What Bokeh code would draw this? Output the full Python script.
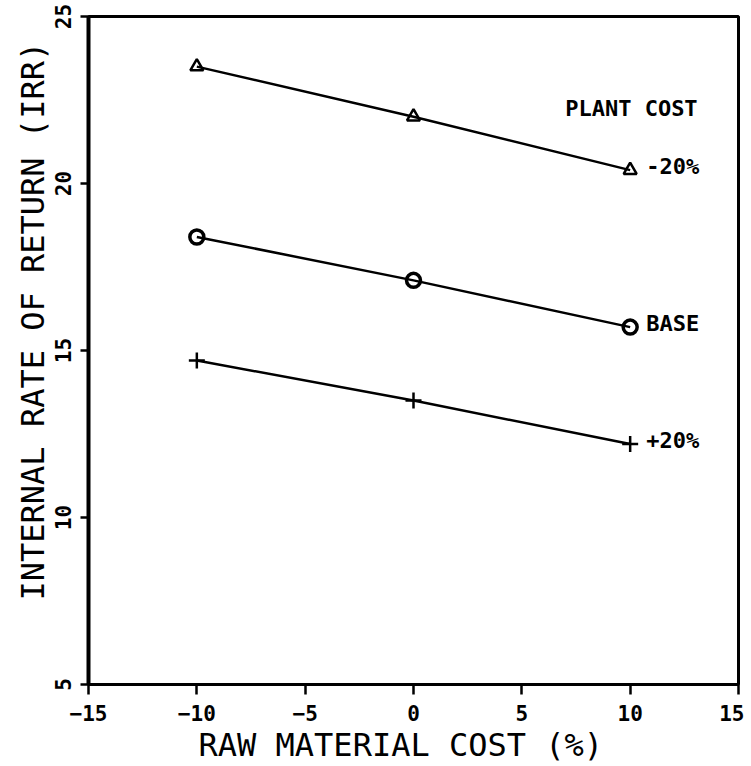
from bokeh.plotting import figure
from bokeh.models import Range1d, FixedTicker, ColumnDataSource, Title
from bokeh.embed import file_html
from bokeh.resources import INLINE
from bokeh.core.properties import value

# ---- data ----
raw_material_cost = [-10, 0, 10]
irr_plant_minus20 = [23.5, 22.0, 20.4]
irr_plant_base = [18.4, 17.1, 15.7]
irr_plant_plus20 = [14.7, 13.5, 12.2]
series_labels = ["-20%", "BASE", "+20%"]
legend_title = "PLANT COST"
x_title = "RAW MATERIAL COST  (%)"
y_title = "INTERNAL RATE OF RETURN (IRR)"
x_ticks = [-15, -10, -5, 0, 5, 10, 15]
y_ticks = [5, 10, 15, 20, 25]

FONT = "DejaVu Sans Mono"

p = figure(frame_width=650, frame_height=668,
           x_range=Range1d(-15, 15), y_range=Range1d(5, 25),
           output_backend="svg", toolbar_location=None,
           min_border_left=88, min_border_right=6, min_border_top=16, min_border_bottom=70)
p.grid.visible = False
p.outline_line_color = "black"
p.outline_line_width = 3
p.background_fill_color = "white"
p.border_fill_color = "white"

# bottom axis
xa = p.xaxis[0]
xa.ticker = FixedTicker(ticks=x_ticks)
xa.axis_line_width = 2.5
xa.major_tick_out = 10
xa.major_tick_in = 0
xa.major_tick_line_width = 2.5
xa.minor_tick_line_color = None
xa.major_label_standoff = 10
xa.major_label_text_font = FONT
xa.major_label_text_font_style = "bold"
xa.major_label_text_font_size = "21px"
xa.major_label_text_color = "black"

# left axis
ya = p.yaxis[0]
ya.ticker = FixedTicker(ticks=y_ticks)
ya.axis_line_width = 4
ya.major_tick_out = 8
ya.major_tick_in = 0
ya.major_tick_line_width = 2.5
ya.minor_tick_line_color = None
ya.major_label_orientation = "vertical"
ya.major_label_standoff = 10
ya.major_label_text_font = FONT
ya.major_label_text_font_style = "bold"
ya.major_label_text_font_size = "21px"
ya.major_label_text_color = "black"

# axis titles as side titles so they can be offset like the reference
p.add_layout(Title(text=x_title, align="left", offset=110, standoff=0,
                   text_font=FONT, text_font_style="normal",
                   text_font_size="32px", text_color="black"), "below")
p.add_layout(Title(text=y_title, align="left", offset=84, standoff=0,
                   text_font=FONT, text_font_style="normal",
                   text_font_size="32px", text_color="black"), "left")

# series
series = [irr_plant_minus20, irr_plant_base, irr_plant_plus20]
for ys in series:
    p.line(raw_material_cost, ys, line_color="black", line_width=2.5)

p.scatter(raw_material_cost, irr_plant_minus20, marker="triangle", size=13,
          line_color="black", line_width=2.5, fill_color=None)
p.scatter(raw_material_cost, irr_plant_base, marker="circle", size=14,
          line_color="black", line_width=3.5, fill_color=None)
p.scatter(raw_material_cost, irr_plant_plus20, marker="cross", size=16,
          line_color="black", line_width=2.5)

# end-of-line labels
lab_src = ColumnDataSource(dict(
    x=[raw_material_cost[-1]] * len(series),
    y=[s[-1] for s in series],
    t=series_labels,
))
p.text(x="x", y="y", text="t", source=lab_src, x_offset=16, y_offset=-4,
       text_align="left", text_baseline="middle",
       text_font=value(FONT), text_font_style="bold", text_font_size="22px",
       text_color="black")

p.text(x=[7.0], y=[22.25], text=[legend_title],
       text_align="left", text_baseline="middle",
       text_font=value(FONT), text_font_style="bold", text_font_size="22px",
       text_color="black")

open("out.html", "w").write(file_html(p, INLINE))
